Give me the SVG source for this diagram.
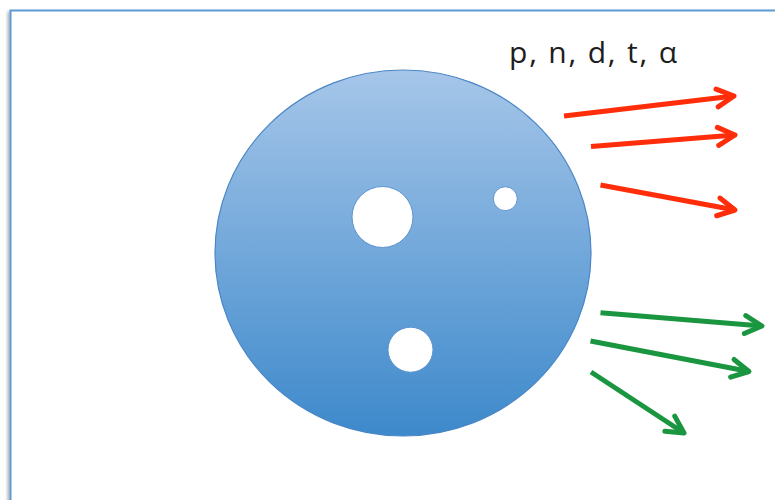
<svg xmlns="http://www.w3.org/2000/svg" width="775" height="500" viewBox="0 0 775 500">
  <defs>
    <linearGradient id="ballGrad" x1="0" y1="0" x2="0" y2="1">
      <stop offset="0" stop-color="#a6c6e9"/>
      <stop offset="1" stop-color="#3d89cb"/>
    </linearGradient>
    <filter id="shadow" x="-5%" y="-5%" width="110%" height="110%">
      <feDropShadow dx="-2" dy="2" stdDeviation="1.5" flood-color="#000" flood-opacity="0.3"/>
    </filter>
    <marker id="headRed" markerUnits="userSpaceOnUse" markerWidth="30" markerHeight="30" viewBox="0 0 30 30" refX="26" refY="15" orient="auto">
      <path d="M9,6 L26,15 L9,24" fill="none" stroke="#ff2d0a" stroke-width="5" stroke-linecap="round" stroke-linejoin="round"/>
    </marker>
    <marker id="headGreen" markerUnits="userSpaceOnUse" markerWidth="30" markerHeight="30" viewBox="0 0 30 30" refX="26" refY="15" orient="auto">
      <path d="M9,6 L26,15 L9,24" fill="none" stroke="#1a9640" stroke-width="5" stroke-linecap="round" stroke-linejoin="round"/>
    </marker>
    <style>
      .red { stroke: #ff2d0a; stroke-width: 5; fill: none; marker-end: url(#headRed); }
      .green { stroke: #1a9640; stroke-width: 5; fill: none; marker-end: url(#headGreen); }
      .hole { fill: #ffffff; stroke: #5b93cf; stroke-width: 1; }
      .label { font-family: "Open Sans", "Liberation Sans", sans-serif; font-size: 30px; fill: #1e1e1e; }
    </style>
  </defs>
  <rect width="775" height="500" fill="#ffffff"/>
  <g id="frame">
    <rect x="10.5" y="10.5" width="800" height="520" fill="#ffffff" stroke="#5b9bd5" stroke-width="2" filter="url(#shadow)"/>
  </g>
  <g id="nucleus">
    <ellipse cx="403" cy="253" rx="188" ry="183" fill="url(#ballGrad)" stroke="#4a86c5" stroke-width="1.2"/>
    <circle class="hole" cx="382.5" cy="217" r="30.5"/>
    <circle class="hole" cx="505.3" cy="198.7" r="12"/>
    <circle class="hole" cx="410.5" cy="349.7" r="22.5"/>
  </g>
  <g id="label">
    <text class="label" x="509" y="63" textLength="168" lengthAdjust="spacing">p, n, d, t, α</text>
  </g>
  <g id="connectors">
    <line class="red" x1="564" y1="116" x2="734" y2="96"/>
    <line class="red" x1="591" y1="146.5" x2="735" y2="135"/>
    <line class="red" x1="600.5" y1="185" x2="735" y2="210"/>
    <line class="green" x1="600.5" y1="312.7" x2="762" y2="326"/>
    <line class="green" x1="590.5" y1="341" x2="749" y2="371.5"/>
    <line class="green" x1="591" y1="372" x2="684" y2="433"/>
  </g>
</svg>
